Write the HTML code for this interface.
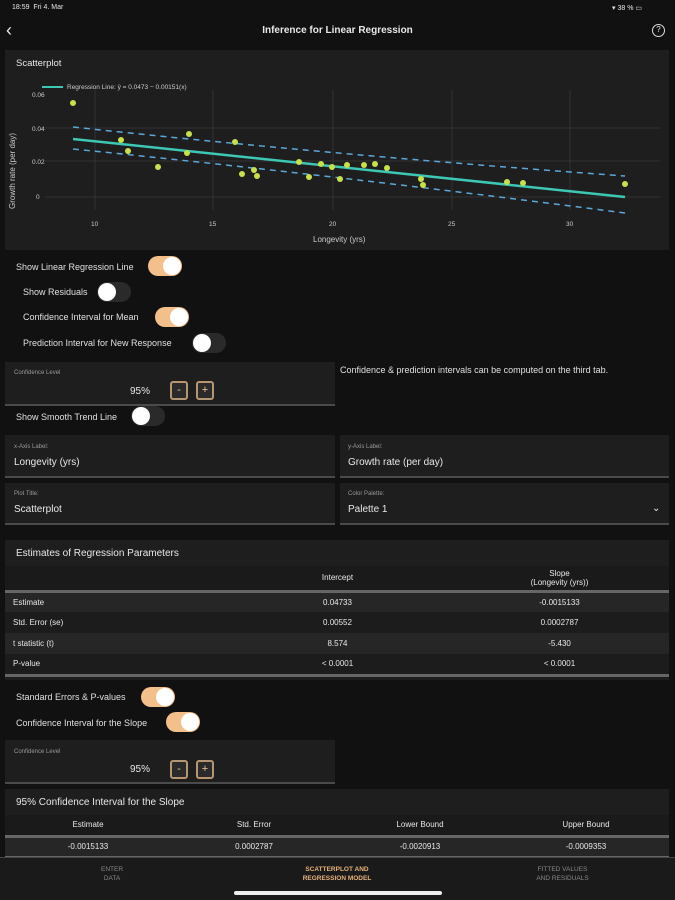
<!DOCTYPE html>
<html><head><meta charset="utf-8"><style>
*{margin:0;padding:0;box-sizing:border-box}
body{width:675px;height:900px;background:#111;color:#e8e8e8;font-family:"Liberation Sans",sans-serif;position:relative;overflow:hidden}
.a{position:absolute;white-space:nowrap}
.card{position:absolute;background:#1e1e1e}
.tg{position:absolute;width:34px;height:20px;border-radius:10px}
.on{background:#f3bf8b}.off{background:#2a2a2a}
.kn{position:absolute;top:1px;width:18px;height:18px;border-radius:9px;background:#fff}
.on .kn{right:1px}.off .kn{left:1px}
.lbl{font-size:9px;color:#e0e0e0}
.box{position:absolute;background:#1e1e1e;border-bottom:2px solid #4a4a4a}
.sm{font-size:6px;color:#999}
.btn{position:absolute;width:18px;height:19px;border:2px solid #b59670;border-radius:3px;background:#2a2a2a;color:#e8c89a;font-size:11px;text-align:center;line-height:15px}
table{border-collapse:collapse;font-size:8px;position:absolute}
td{height:21px;text-align:center}
</style></head><body>
<div class="a" style="left:12px;top:4px;font-size:7px">18:59&nbsp; Fri 4. Mar</div>
<div class="a" style="left:612px;top:4px;font-size:7px">▾ 38 % ▭</div>
<div class="a" style="left:6px;top:20px;font-size:18px;line-height:20px">‹</div>
<div class="a" style="left:0;width:675px;text-align:center;top:25px;font-size:10px;font-weight:bold">Inference for Linear Regression</div>
<div class="a" style="left:652px;top:24px;width:13px;height:13px;border:1.5px solid #ddd;border-radius:7px;font-size:8px;text-align:center;line-height:10px">?</div>

<div class="card" style="left:5px;top:50px;width:664px;height:200px"></div>
<div class="a" style="left:16px;top:58px;font-size:9.5px">Scatterplot</div>
<svg class="a" style="left:0;top:0" width="675" height="250">
<g stroke="#333" stroke-width="1">
<line x1="95" y1="90" x2="95" y2="210"/><line x1="213" y1="90" x2="213" y2="210"/><line x1="333" y1="90" x2="333" y2="210"/><line x1="452" y1="90" x2="452" y2="210"/><line x1="570" y1="90" x2="570" y2="210"/>
<line x1="45" y1="128" x2="660" y2="128"/><line x1="45" y1="161" x2="660" y2="161"/><line x1="45" y1="197" x2="660" y2="197"/>
</g>
<g font-size="6.5" fill="#ccc" font-family="Liberation Sans">
<text x="32" y="97">0.06</text><text x="32" y="131">0.04</text><text x="32" y="164">0.02</text><text x="36" y="199">0</text>
<text x="91" y="226">10</text><text x="209" y="226">15</text><text x="329" y="226">20</text><text x="448" y="226">25</text><text x="566" y="226">30</text>
<text x="313" y="242" font-size="8">Longevity (yrs)</text>
<text transform="translate(15,209) rotate(-90)" font-size="8">Growth rate (per day)</text>
<text x="67" y="89" font-size="6.5">Regression Line: ŷ = 0.0473 − 0.00151(x)</text>
</g>
<line x1="42" y1="87" x2="63" y2="87" stroke="#3cc8b4" stroke-width="2"/>
<g fill="none" stroke="#5aa8d8" stroke-width="1.5" stroke-dasharray="6,5">
<path d="M73 127 Q333 155 625 176"/><path d="M73 149 Q333 175 625 213"/>
</g>
<line x1="73" y1="139" x2="625" y2="197" stroke="#3cc8b4" stroke-width="2.5"/>
<g fill="#c8e04a">
<circle cx="73" cy="103" r="3"/><circle cx="121" cy="140" r="3"/><circle cx="128" cy="151" r="3"/><circle cx="158" cy="167" r="3"/><circle cx="187" cy="153" r="3"/><circle cx="189" cy="134" r="3"/><circle cx="235" cy="142" r="3"/><circle cx="242" cy="174" r="3"/><circle cx="254" cy="170" r="3"/><circle cx="257" cy="176" r="3"/><circle cx="299" cy="162" r="3"/><circle cx="309" cy="177" r="3"/><circle cx="321" cy="164" r="3"/><circle cx="332" cy="167" r="3"/><circle cx="340" cy="179" r="3"/><circle cx="347" cy="165" r="3"/><circle cx="364" cy="165" r="3"/><circle cx="375" cy="164" r="3"/><circle cx="387" cy="168" r="3"/><circle cx="421" cy="179" r="3"/><circle cx="423" cy="185" r="3"/><circle cx="507" cy="182" r="3"/><circle cx="523" cy="183" r="3"/><circle cx="625" cy="184" r="3"/>
</g>
</svg>

<div class="a lbl" style="left:16px;top:262px">Show Linear Regression Line</div><div class="tg on" style="left:148px;top:256px"><div class="kn"></div></div>
<div class="a lbl" style="left:23px;top:287px">Show Residuals</div><div class="tg off" style="left:97px;top:282px"><div class="kn"></div></div>
<div class="a lbl" style="left:23px;top:312px">Confidence Interval for Mean</div><div class="tg on" style="left:155px;top:307px"><div class="kn"></div></div>
<div class="a lbl" style="left:23px;top:338px">Prediction Interval for New Response</div><div class="tg off" style="left:192px;top:333px"><div class="kn"></div></div>

<div class="box" style="left:5px;top:362px;width:330px;height:44px"></div>
<div class="a sm" style="left:14px;top:370px">Confidence Level</div>
<div class="a" style="left:130px;top:386px;font-size:10px">95%</div>
<div class="btn" style="left:170px;top:381px">-</div><div class="btn" style="left:196px;top:381px">+</div>
<div class="a lbl" style="left:340px;top:365px">Confidence &amp; prediction intervals can be computed on the third tab.</div>

<div class="a lbl" style="left:16px;top:412px">Show Smooth Trend Line</div><div class="tg off" style="left:131px;top:406px"><div class="kn"></div></div>

<div class="box" style="left:5px;top:435px;width:330px;height:43px"></div>
<div class="a sm" style="left:14px;top:444px">x-Axis Label:</div><div class="a" style="left:14px;top:457px;font-size:10px">Longevity (yrs)</div>
<div class="box" style="left:340px;top:435px;width:329px;height:43px"></div>
<div class="a sm" style="left:348px;top:444px">y-Axis Label:</div><div class="a" style="left:348px;top:457px;font-size:10px">Growth rate (per day)</div>
<div class="box" style="left:5px;top:483px;width:330px;height:42px"></div>
<div class="a sm" style="left:14px;top:491px">Plot Title:</div><div class="a" style="left:14px;top:504px;font-size:10px">Scatterplot</div>
<div class="box" style="left:340px;top:483px;width:329px;height:42px"></div>
<div class="a sm" style="left:348px;top:491px">Color Palette:</div><div class="a" style="left:348px;top:504px;font-size:10px">Palette 1</div>
<div class="a" style="left:652px;top:503px;font-size:10px">⌄</div>

<div class="card" style="left:5px;top:540px;width:664px;height:140px"></div>
<div class="a" style="left:16px;top:548px;font-size:10px">Estimates of Regression Parameters</div>
<table style="left:5px;top:566px;width:664px">
<tr style="background:#1a1a1a;border-bottom:3px solid #666"><td style="width:220px;height:25px"></td><td style="width:225px">Intercept</td><td>Slope<br>(Longevity (yrs))</td></tr>
<tr style="background:#262626"><td style="text-align:left;padding-left:8px">Estimate</td><td>0.04733</td><td>-0.0015133</td></tr>
<tr style="background:#1c1c1c"><td style="text-align:left;padding-left:8px">Std. Error (se)</td><td>0.00552</td><td>0.0002787</td></tr>
<tr style="background:#262626"><td style="text-align:left;padding-left:8px">t statistic (t)</td><td>8.574</td><td>-5.430</td></tr>
<tr style="background:#1c1c1c;border-bottom:3px solid #666"><td style="text-align:left;padding-left:8px">P-value</td><td>&lt; 0.0001</td><td>&lt; 0.0001</td></tr>
</table>

<div class="a lbl" style="left:16px;top:692px">Standard Errors &amp; P-values</div><div class="tg on" style="left:141px;top:687px"><div class="kn"></div></div>
<div class="a lbl" style="left:16px;top:718px">Confidence Interval for the Slope</div><div class="tg on" style="left:166px;top:712px"><div class="kn"></div></div>

<div class="box" style="left:5px;top:740px;width:330px;height:44px"></div>
<div class="a sm" style="left:14px;top:749px">Confidence Level</div>
<div class="a" style="left:130px;top:764px;font-size:10px">95%</div>
<div class="btn" style="left:170px;top:760px">-</div><div class="btn" style="left:196px;top:760px">+</div>

<div class="card" style="left:5px;top:789px;width:664px;height:67px"></div>
<div class="a" style="left:16px;top:797px;font-size:10px">95% Confidence Interval for the Slope</div>
<table style="left:5px;top:815px;width:664px">
<tr style="background:#1a1a1a;border-bottom:3px solid #666"><td style="width:25%">Estimate</td><td style="width:25%">Std. Error</td><td style="width:25%">Lower Bound</td><td>Upper Bound</td></tr>
<tr style="background:#262626;border-bottom:2px solid #666"><td>-0.0015133</td><td>0.0002787</td><td>-0.0020913</td><td>-0.0009353</td></tr>
</table>

<div class="a" style="left:0;top:857px;width:675px;height:43px;background:#1a1a1a;border-top:1px solid #444"></div>
<div class="a" style="left:62px;top:865px;width:100px;text-align:center;font-size:6.5px;color:#888;line-height:9px">ENTER<br>DATA</div>
<div class="a" style="left:267px;top:865px;width:140px;text-align:center;font-size:6.5px;color:#e8b27a;font-weight:bold;line-height:9px">SCATTERPLOT AND<br>REGRESSION MODEL</div>
<div class="a" style="left:500px;top:865px;width:125px;text-align:center;font-size:6.5px;color:#888;line-height:9px">FITTED VALUES<br>AND RESIDUALS</div>
<div class="a" style="left:234px;top:891px;width:208px;height:4px;border-radius:2px;background:#eee"></div>
</body></html>
